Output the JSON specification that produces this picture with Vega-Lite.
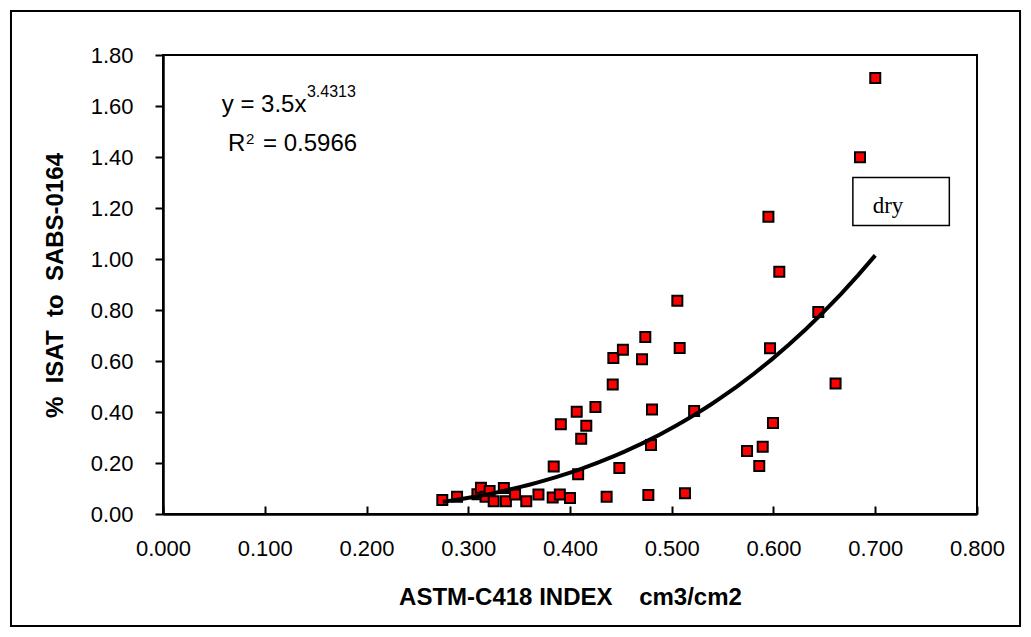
{
  "$schema": "https://vega.github.io/schema/vega-lite/v6.json",
  "width": 814,
  "height": 459,
  "autosize": "none",
  "padding": {"left": 163, "top": 55, "right": 54, "bottom": 123},
  "background": "white",
  "config": {
    "view": {"stroke": "black", "strokeWidth": 2},
    "font": "Liberation Sans",
    "axis": {"grid": false, "domainColor": "black", "domainWidth": 2.5, "tickColor": "black", "tickWidth": 2, "labelColor": "black", "titleColor": "black", "labelFont": "Liberation Sans", "titleFont": "Liberation Sans"}
  },
  "data": {"values": [
    {"index": 0.2745, "isat": 0.055},
    {"index": 0.289, "isat": 0.068},
    {"index": 0.309, "isat": 0.077},
    {"index": 0.3125, "isat": 0.103},
    {"index": 0.317, "isat": 0.068},
    {"index": 0.321, "isat": 0.090},
    {"index": 0.325, "isat": 0.050},
    {"index": 0.335, "isat": 0.102},
    {"index": 0.337, "isat": 0.050},
    {"index": 0.346, "isat": 0.076},
    {"index": 0.357, "isat": 0.050},
    {"index": 0.369, "isat": 0.076},
    {"index": 0.383, "isat": 0.065},
    {"index": 0.384, "isat": 0.186},
    {"index": 0.390, "isat": 0.076},
    {"index": 0.391, "isat": 0.352},
    {"index": 0.400, "isat": 0.063},
    {"index": 0.4066, "isat": 0.401},
    {"index": 0.408, "isat": 0.156},
    {"index": 0.411, "isat": 0.295},
    {"index": 0.416, "isat": 0.346},
    {"index": 0.425, "isat": 0.420},
    {"index": 0.436, "isat": 0.068},
    {"index": 0.442, "isat": 0.508},
    {"index": 0.4426, "isat": 0.612},
    {"index": 0.4485, "isat": 0.180},
    {"index": 0.452, "isat": 0.644},
    {"index": 0.4708, "isat": 0.607},
    {"index": 0.474, "isat": 0.694},
    {"index": 0.477, "isat": 0.075},
    {"index": 0.4796, "isat": 0.271},
    {"index": 0.4806, "isat": 0.410},
    {"index": 0.5055, "isat": 0.836},
    {"index": 0.5078, "isat": 0.651},
    {"index": 0.513, "isat": 0.081},
    {"index": 0.522, "isat": 0.404},
    {"index": 0.574, "isat": 0.247},
    {"index": 0.586, "isat": 0.188},
    {"index": 0.5894, "isat": 0.264},
    {"index": 0.595, "isat": 1.166},
    {"index": 0.5966, "isat": 0.650},
    {"index": 0.5995, "isat": 0.357},
    {"index": 0.6057, "isat": 0.950},
    {"index": 0.644, "isat": 0.792},
    {"index": 0.661, "isat": 0.512},
    {"index": 0.685, "isat": 1.399},
    {"index": 0.700, "isat": 1.710}
  ]},
  "layer": [
    {
      "data": {"values": [{}]},
      "mark": {"type": "rect", "fill": null, "stroke": "black", "strokeWidth": 2, "clip": false},
      "encoding": {
        "x": {"datum": -0.1494, "type": "quantitative", "scale": {"domain": [0, 0.8], "nice": false, "zero": false}},
        "x2": {"datum": 0.8423},
        "y": {"datum": 1.9725, "type": "quantitative", "scale": {"domain": [0, 1.8], "nice": false, "zero": false}},
        "y2": {"datum": -0.4392}
      }
    },
    {
      "mark": {"type": "square", "size": 100, "fill": "#ff0000", "stroke": "black", "strokeWidth": 2, "opacity": 1},
      "encoding": {
        "x": {"field": "index", "type": "quantitative",
          "scale": {"domain": [0, 0.8], "nice": false, "zero": false},
          "axis": {"values": [0, 0.1, 0.2, 0.3, 0.4, 0.5, 0.6, 0.7, 0.8], "format": ".3f", "labelFontSize": 22, "tickSize": -8, "labelPadding": 32, "labelFlush": false,
            "title": "ASTM-C418 INDEX\u00a0\u00a0\u00a0\u00a0cm3/cm2", "titleFontSize": 24, "titleFontWeight": "bold", "titleX": 407, "titleY": 83, "titleBaseline": "middle", "titleAlign": "center"}},
        "y": {"field": "isat", "type": "quantitative",
          "scale": {"domain": [0, 1.8], "nice": false, "zero": false},
          "axis": {"values": [0, 0.2, 0.4, 0.6, 0.8, 1.0, 1.2, 1.4, 1.6, 1.8], "format": ".2f", "labelFontSize": 22, "tickSize": 8, "labelPadding": 22, "labelFlush": false,
            "title": "%\u00a0\u00a0ISAT\u00a0\u00a0to\u00a0\u00a0SABS-0164", "titleFontSize": 24, "titleFontWeight": "bold", "titleX": -108, "titleY": 230, "titleAngle": -90, "titleBaseline": "middle", "titleAlign": "center"}}
      }
    },
    {
      "transform": [{"regression": "isat", "on": "index", "method": "pow", "extent": [0.275, 0.70]}],
      "mark": {"type": "line", "color": "black", "strokeWidth": 4},
      "encoding": {
        "x": {"field": "index", "type": "quantitative"},
        "y": {"field": "isat", "type": "quantitative"}
      }
    },
    {
      "data": {"values": [{}]},
      "mark": {"type": "rect", "fill": "white", "stroke": "black", "strokeWidth": 1.5},
      "encoding": {
        "x": {"datum": 0.678, "type": "quantitative"},
        "x2": {"datum": 0.7728},
        "y": {"datum": 1.320, "type": "quantitative"},
        "y2": {"datum": 1.131}
      }
    },
    {
      "data": {"values": [{"label": "dry"}]},
      "mark": {"type": "text", "font": "Liberation Serif", "fontSize": 23, "align": "left", "baseline": "alphabetic", "color": "black"},
      "encoding": {
        "x": {"datum": 0.6975, "type": "quantitative"},
        "y": {"datum": 1.18, "type": "quantitative"},
        "text": {"field": "label"}
      }
    },
    {
      "data": {"values": [{"label": "y = 3.5x"}]},
      "mark": {"type": "text", "fontSize": 24, "align": "left", "baseline": "alphabetic", "color": "black"},
      "encoding": {
        "x": {"datum": 0.0577, "type": "quantitative"},
        "y": {"datum": 1.578, "type": "quantitative"},
        "text": {"field": "label"}
      }
    },
    {
      "data": {"values": [{"label": "3.4313"}]},
      "mark": {"type": "text", "fontSize": 16, "align": "left", "baseline": "alphabetic", "color": "black"},
      "encoding": {
        "x": {"datum": 0.1415, "type": "quantitative"},
        "y": {"datum": 1.635, "type": "quantitative"},
        "text": {"field": "label"}
      }
    },
    {
      "data": {"values": [{"label": "R"}]},
      "mark": {"type": "text", "fontSize": 24, "align": "left", "baseline": "alphabetic", "color": "black"},
      "encoding": {
        "x": {"datum": 0.0639, "type": "quantitative"},
        "y": {"datum": 1.4235, "type": "quantitative"},
        "text": {"field": "label"}
      }
    },
    {
      "data": {"values": [{"label": "2"}]},
      "mark": {"type": "text", "fontSize": 15, "align": "left", "baseline": "alphabetic", "color": "black"},
      "encoding": {
        "x": {"datum": 0.0816, "type": "quantitative"},
        "y": {"datum": 1.451, "type": "quantitative"},
        "text": {"field": "label"}
      }
    },
    {
      "data": {"values": [{"label": "= 0.5966"}]},
      "mark": {"type": "text", "fontSize": 24, "align": "left", "baseline": "alphabetic", "color": "black"},
      "encoding": {
        "x": {"datum": 0.0983, "type": "quantitative"},
        "y": {"datum": 1.4235, "type": "quantitative"},
        "text": {"field": "label"}
      }
    }
  ]
}
